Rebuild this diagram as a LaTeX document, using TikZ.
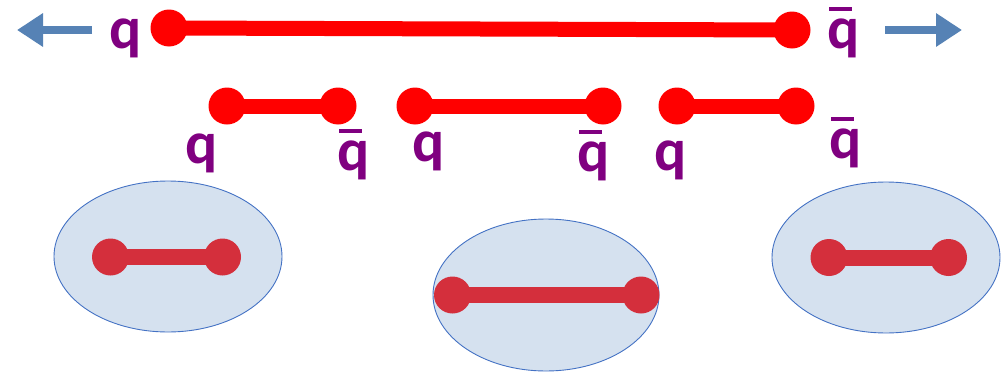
\documentclass[tikz,border=0pt]{standalone}
\usepackage{fontspec}
\setmainfont{Carlito}
\usetikzlibrary{arrows.meta,shapes.geometric}
\definecolor{qred}{RGB}{255,0,0}
\definecolor{hred}{RGB}{212,47,60}
\definecolor{qpurple}{RGB}{128,0,128}
\definecolor{arrblue}{RGB}{86,130,181}
\definecolor{ellfill}{RGB}{213,225,239}
\definecolor{elldraw}{RGB}{68,114,196}
\newcommand{\qbar}{\rlap{\hspace{2pt}\raisebox{37pt}{\rule{23pt}{4.5pt}}}q}
\begin{document}
\begin{tikzpicture}[x=1pt,y=-1pt,
  dot/.style={circle,fill=qred,inner sep=0pt,minimum size=37pt},
  hdot/.style={circle,fill=hred,inner sep=0pt,minimum size=37pt},
  string/.style={qred,line width=15pt},
  hstring/.style={hred,line width=16pt},
  lbl/.style={anchor=base west,inner sep=0pt,text=qpurple,font=\fontsize{60}{60}\selectfont\bfseries},
  blob/.style={ellipse,fill=ellfill,draw=elldraw,line width=0.9pt,inner sep=0pt},
  pull/.style={arrblue,line width=7.5pt,-{Triangle[length=26pt,width=32pt]}}]
\useasboundingbox (0,0) rectangle (1007,375);
% top string
\node[dot] (t1) at (169,28) {};
\node[dot] (t2) at (792,30) {};
\draw[string] (t1.center) -- (t2.center);
\node[lbl] (tq) at (109,48) {q};
\node[lbl] (tqb) at (827,48) {\qbar};
\coordinate (la0) at (92,30);
\coordinate (la1) at (17,30);
\coordinate (ra0) at (885,30);
\coordinate (ra1) at (962,30);
\draw[pull] (la0) -- (la1);
\draw[pull] (ra0) -- (ra1);
% second row
\node[dot] (a1) at (227,106) {};
\node[dot] (a2) at (338,106) {};
\draw[string] (a1.center) -- (a2.center);
\node[dot] (b1) at (415,106) {};
\node[dot] (b2) at (603,106) {};
\draw[string] (b1.center) -- (b2.center);
\node[dot] (c1) at (677,106) {};
\node[dot] (c2) at (796,106) {};
\draw[string] (c1.center) -- (c2.center);
\node[lbl] (qa) at (185,163) {q};
\node[lbl] (qba) at (337,170) {\qbar};
\node[lbl] (qb) at (412,161) {q};
\node[lbl] (qbb) at (577,171) {\qbar};
\node[lbl] (qc) at (654,170) {q};
\node[lbl] (qbc) at (829,158) {\qbar};
% hadrons
\node[blob,minimum width=228pt,minimum height=151pt] (e1) at (168,256.5) {};
\node[blob,minimum width=226pt,minimum height=152pt] (e2) at (546,295) {};
\node[blob,minimum width=228pt,minimum height=151pt] (e3) at (886,257.5) {};
\node[hdot] (h1) at (110.5,257) {};
\node[hdot] (h2) at (222.5,257) {};
\draw[hstring] (h1.center) -- (h2.center);
\node[hdot] (m1) at (452.5,295) {};
\node[hdot] (m2) at (641,295) {};
\draw[hstring] (m1.center) -- (m2.center);
\node[hdot] (r1) at (829,257.5) {};
\node[hdot] (r2) at (948.5,257.5) {};
\draw[hstring] (r1.center) -- (r2.center);
\end{tikzpicture}
\end{document}
